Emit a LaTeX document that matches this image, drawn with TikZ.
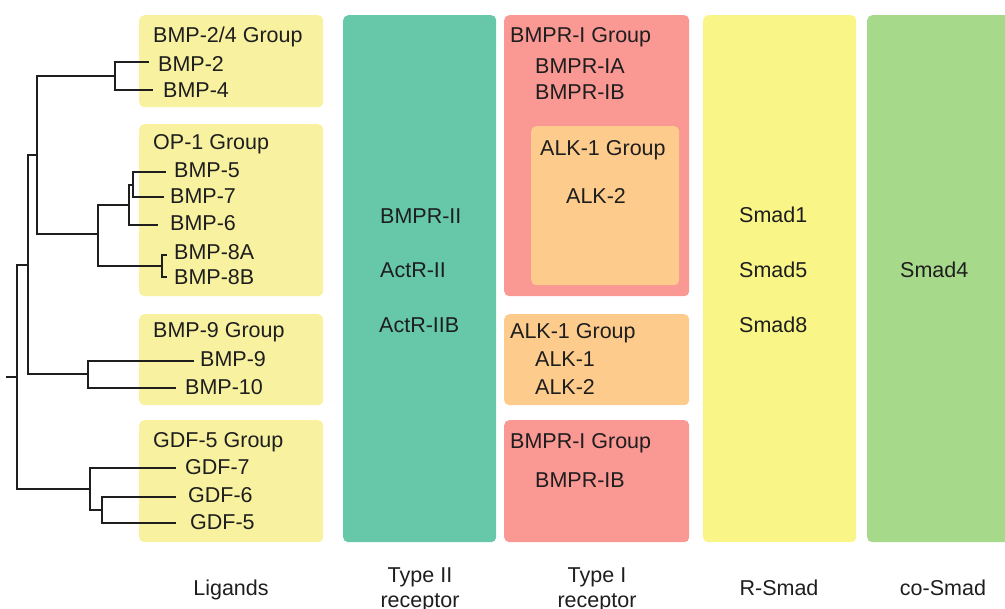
\documentclass[tikz,border=0pt]{standalone}
\usepackage{fontspec}
\setmainfont{Liberation Sans}
\definecolor{lig}{HTML}{F8F2A0}
\definecolor{teal2}{HTML}{66C8A8}
\definecolor{redb}{HTML}{FA9894}
\definecolor{orb}{HTML}{FDCC8C}
\definecolor{rsm}{HTML}{F9F587}
\definecolor{csm}{HTML}{A7D98B}
\definecolor{txt}{HTML}{1E1E1E}
\tikzset{
  box/.style={rounded corners=5pt, inner sep=0pt, anchor=north west, draw=none},
  lbl/.style={anchor=base west, inner sep=0pt, font=\fontsize{21.5}{26}\selectfont, text=txt},
  clbl/.style={anchor=base, inner sep=0pt, font=\fontsize{21.5}{26}\selectfont, text=txt},
  tree/.style={line width=1.8pt, draw=txt, line cap=rect}
}
\begin{document}
\begin{tikzpicture}[x=1pt,y=-1pt]
\useasboundingbox (0,0) rectangle (1005,609);
\clip (0,0) rectangle (1005,609);
% ligand group boxes
\node[box, fill=lig, minimum width=184pt, minimum height=92pt] (g24) at (139,15) {};
\node[box, fill=lig, minimum width=184pt, minimum height=172pt] (gop) at (139,124) {};
\node[box, fill=lig, minimum width=184pt, minimum height=91pt] (g9) at (139,314) {};
\node[box, fill=lig, minimum width=184pt, minimum height=122pt] (g5) at (139,420) {};
% columns
\node[box, fill=teal2, minimum width=153pt, minimum height=527pt] (t2) at (343,15) {};
\node[box, fill=redb, minimum width=185pt, minimum height=281pt] (r1) at (504,15) {};
\node[box, fill=orb, minimum width=148pt, minimum height=159pt] (o1) at (531,126) {};
\node[box, fill=orb, minimum width=185pt, minimum height=91pt] (o2) at (504,314) {};
\node[box, fill=redb, minimum width=185pt, minimum height=122pt] (r2) at (504,420) {};
\node[box, fill=rsm, minimum width=153pt, minimum height=527pt] (rs) at (703,15) {};
\node[box, fill=csm, minimum width=150pt, minimum height=527pt] (cs) at (867,15) {};
% ligand labels
\node[lbl] (tg24) at (153,43) {BMP-2/4 Group};
\node[lbl] (tb2) at (158,72) {BMP-2};
\node[lbl] (tb4) at (163,98) {BMP-4};
\node[lbl] (tgop) at (153,150) {OP-1 Group};
\node[lbl] (tb5) at (174,178) {BMP-5};
\node[lbl] (tb7) at (170,204) {BMP-7};
\node[lbl] (tb6) at (170,231) {BMP-6};
\node[lbl] (tb8a) at (174,260) {BMP-8A};
\node[lbl] (tb8b) at (174,285) {BMP-8B};
\node[lbl] (tg9) at (153,338) {BMP-9 Group};
\node[lbl] (tb9) at (200,367) {BMP-9};
\node[lbl] (tb10) at (185,395) {BMP-10};
\node[lbl] (tg5) at (153,448) {GDF-5 Group};
\node[lbl] (tgd7) at (185,475) {GDF-7};
\node[lbl] (tgd6) at (188,503) {GDF-6};
\node[lbl] (tgd5) at (190,530) {GDF-5};
% receptor labels
\node[lbl] (tr2) at (380,224) {BMPR-II};
\node[lbl] (ta2) at (380,278) {ActR-II};
\node[lbl] (ta2b) at (379,333) {ActR-IIB};
\node[lbl] (tr1g) at (510,43) {BMPR-I Group};
\node[lbl] (tr1a) at (535,74) {BMPR-IA};
\node[lbl] (tr1b) at (535,100) {BMPR-IB};
\node[lbl] (to1g) at (540,156) {ALK-1 Group};
\node[lbl] (to1k2) at (566,204) {ALK-2};
\node[lbl] (to2g) at (510,339) {ALK-1 Group};
\node[lbl] (to2k1) at (535,367) {ALK-1};
\node[lbl] (to2k2) at (535,395) {ALK-2};
\node[lbl] (tr2g) at (510,449) {BMPR-I Group};
\node[lbl] (tr2b) at (535,488) {BMPR-IB};
\node[lbl] (ts1) at (739,223) {Smad1};
\node[lbl] (ts5) at (739,278) {Smad5};
\node[lbl] (ts8) at (739,333) {Smad8};
\node[lbl] (ts4) at (900,278) {Smad4};
% column titles
\node[clbl] (hl) at (231,595) {Ligands};
\node[clbl] (h2a) at (420,583) {Type II};
\node[clbl] (h2b) at (420,608) {receptor};
\node[clbl] (h1a) at (597,583) {Type I};
\node[clbl] (h1b) at (597,608) {receptor};
\node[clbl] (hr) at (779,595) {R-Smad};
\node[clbl] (hc) at (943,595) {co-Smad};
% tree coordinates
\coordinate (l2) at (148,62);
\coordinate (l4) at (152,90);
\coordinate (n24) at (115,76);
\coordinate (l5) at (165,172);
\coordinate (l7) at (163,197);
\coordinate (n57) at (133,185);
\coordinate (l6) at (157,225);
\coordinate (n576) at (129,205);
\coordinate (l8a) at (166,255);
\coordinate (l8b) at (166,277);
\coordinate (n8) at (162,266);
\coordinate (nop) at (98,234);
\coordinate (na) at (37,155);
\coordinate (l9) at (193,361);
\coordinate (l10) at (175,388);
\coordinate (n910) at (88,374);
\coordinate (nb) at (28,265);
\coordinate (lg7) at (175,468);
\coordinate (lg6) at (175,497);
\coordinate (lg5) at (175,523);
\coordinate (n56) at (102,510);
\coordinate (ng) at (90,489);
\coordinate (root) at (17,377);
\coordinate (rt) at (7,377);
% tree
\draw[tree] (l2) -| (n24) |- (l4);
\draw[tree] (l5) -| (n57) |- (l7);
\draw[tree] (n57) -| (n576) |- (l6);
\draw[tree] (l8a) -| (n8) |- (l8b);
\draw[tree] (n576) -| (nop) |- (n8);
\draw[tree] (n24) -| (na) |- (nop);
\draw[tree] (l9) -| (n910) |- (l10);
\draw[tree] (na) -| (nb) |- (n910);
\draw[tree] (lg6) -| (n56) |- (lg5);
\draw[tree] (lg7) -| (ng) |- (n56);
\draw[tree] (nb) -| (root) |- (ng);
\draw[tree] (rt) -- (root);
\end{tikzpicture}
\end{document}
